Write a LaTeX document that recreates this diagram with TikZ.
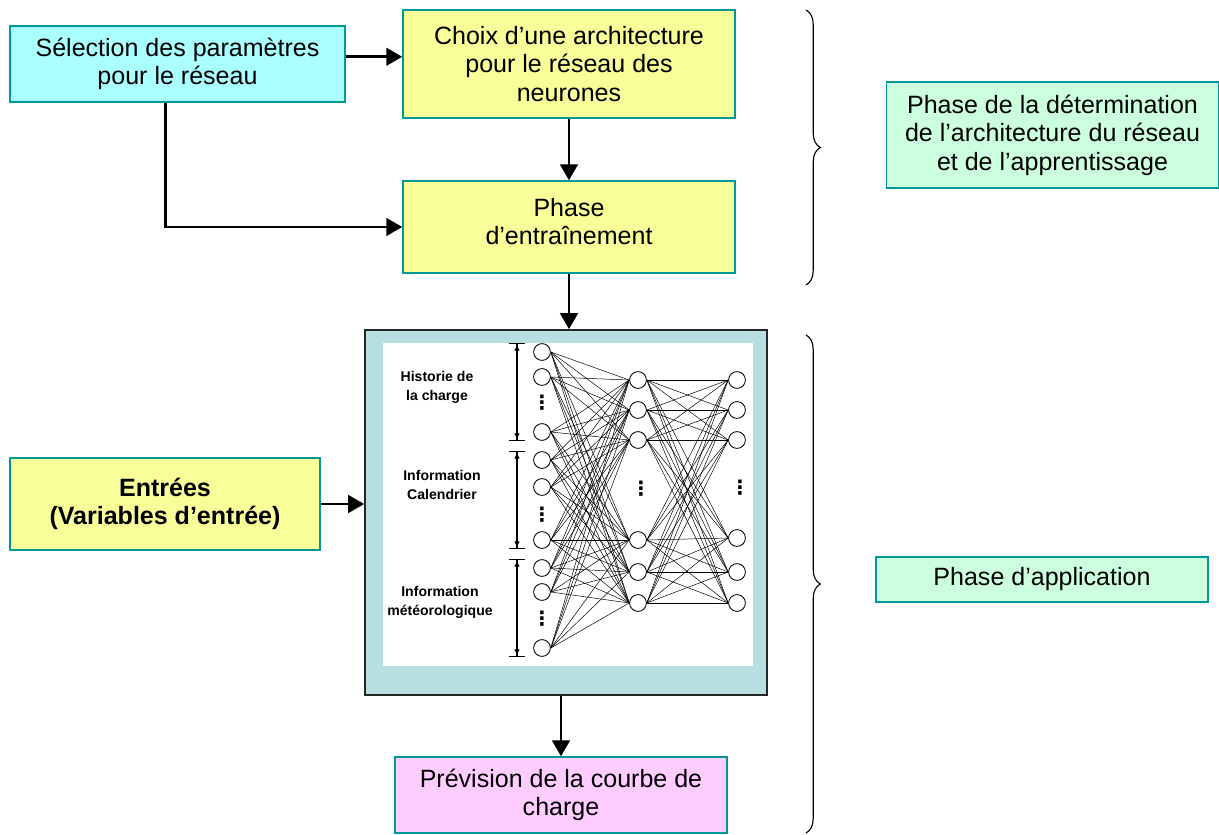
\documentclass[tikz,border=0pt]{standalone}
\usepackage{fontspec}
\setmainfont{Liberation Sans}
\newfontfamily\dotsfont{DejaVu Sans}
\usetikzlibrary{positioning,arrows.meta,decorations.pathreplacing,calc}
\definecolor{boxcyan}{RGB}{170,255,255}
\definecolor{boxyellow}{RGB}{248,255,153}
\definecolor{boxpink}{RGB}{255,204,255}
\definecolor{boxgreen}{RGB}{204,255,221}
\definecolor{boxedge}{RGB}{0,153,153}
\definecolor{netfill}{RGB}{183,222,224}
\tikzset{
  box/.style={rectangle, draw=boxedge, line width=1pt, align=center,
    font=\fontsize{17.8}{20.3}\selectfont, inner sep=0pt},
  selbox/.style={box, fill=boxcyan, minimum width=8.375cm, minimum height=1.9cm},
  archbox/.style={box, fill=boxyellow, minimum width=8.3cm},
  outbox/.style={box, fill=boxpink, minimum width=8.3cm, minimum height=1.9cm},
  phasebox/.style={box, fill=boxgreen, minimum width=8.3cm},
  flow/.style={-{Triangle[length=4mm,width=4.4mm]}, draw=black, line width=2.1pt},
  % network picture styles
  neuron/.style={circle, draw=black, fill=white, line width=0.6pt,
    minimum size=0.42cm, inner sep=0pt},
  wire/.style={draw=black, line width=0.35pt},
  vdots/.style={inner sep=0pt, font=\dotsfont\bfseries\fontsize{14}{14}\selectfont},
  grplbl/.style={align=center, font=\fontsize{10}{13.5}\selectfont\bfseries},
  dim/.style={{Bar[width=0.38cm]Latex[length=1.6mm,width=1.4mm]}-{Latex[length=1.6mm,width=1.4mm]Bar[width=0.38cm]},
    line width=0.8pt},
}

\begin{document}
\begin{tikzpicture}[x=0.025cm, y=-0.025cm,
  phbrace/.style={decorate, decoration={brace, amplitude=0.36cm}, line width=0.8pt},
  netbox/.style={rectangle, draw=black!85, line width=1.1pt, fill=netfill,
    minimum width=10.05cm, minimum height=9.125cm, inner sep=0pt}]
\useasboundingbox (0,0) rectangle (1219,835);
% learning phase
\node[selbox] (sel) at (177.5,64) {Sélection des paramètres\\pour le réseau};
\node[archbox, minimum height=2.7cm] (choix) at (569,64) {Choix d’une architecture\\pour le réseau des\\neurones};
\node[archbox, minimum height=2.3cm, text depth=0.28cm] (entr) at (569,227) {Phase\\d’entraînement};
\draw[flow] ([yshift=0.18cm]sel.east) -- ([yshift=0.18cm]sel.east -| choix.west);
\draw[flow] (choix) -- (entr);
\draw[flow] ([xshift=-0.31cm]sel.south) |- (entr.west);
% application phase
\node[netbox] (net) at (566,512.5) {};
\node[fill=white, inner sep=0pt, minimum width=9.25cm, minimum height=8.075cm] (netimg) at (568,504.5) {};
\node[archbox, minimum height=2.3cm, minimum width=7.75cm] (inp) at (165,504) {\bfseries Entrées\\\bfseries (Variables d’entrée)};
\node[outbox] (prev) at (561,795) {Prévision de la courbe de\\charge};
\draw[flow] (entr.south) -- (entr.south |- net.north);
\draw[flow] (inp.east) -- (inp.east -| net.west);
\draw[flow] (prev.north |- net.south) -- (prev.north);
% neural network
\foreach \n/\y in {1/352,2/377,3/432,4/460,5/487,6/540,7/568,8/592,9/648}
  \node[neuron] (i\n) at (542,\y) {};
\foreach \n/\y in {1/380,2/410,3/440,4/540,5/572,6/603}
  \node[neuron] (h\n) at (638,\y) {};
\foreach \n/\y in {1/380,2/410,3/440,4/538,5/572,6/603}
  \node[neuron] (o\n) at (737,\y) {};
\foreach \a in {1,...,9}
  \foreach \b in {1,...,6}
    \draw[wire] (i\a.east) -- (h\b.west);
\foreach \a in {1,...,6}
  \foreach \b in {1,...,6}
    \draw[wire] (h\a.east) -- (o\b.west);
\foreach \n/\x/\y in {1/542/403,2/542/515,3/542/619,4/641/489,5/740/488}
  \node[vdots] (d\n) at (\x,\y) {⋮};
\coordinate (dimx) at (517,0);
\draw[dim] (i1.north -| dimx) -- (i3.south -| dimx);
\draw[dim] (i4.north -| dimx) -- (i6.south -| dimx);
\draw[dim] (i7.north -| dimx) -- (i9.south -| dimx);
\node[grplbl] (g1) at (437,387) {Historie de\\la charge};
\node[grplbl] (g2) at (442,485) {Information\\Calendrier};
\node[grplbl] (g3) at (440,602) {Information\\météorologique};
% phases
\draw[phbrace] (806,10) -- (806,285);
\draw[phbrace] (806,335) -- (806,833);
\node[phasebox, minimum height=2.65cm] (ph1) at (1052.5,135) {Phase de la détermination\\de l’architecture du réseau\\et de l’apprentissage};
\node[phasebox, minimum height=1.125cm] (ph2) at (1042,579.5) {Phase d’application};
\end{tikzpicture}
\end{document}
